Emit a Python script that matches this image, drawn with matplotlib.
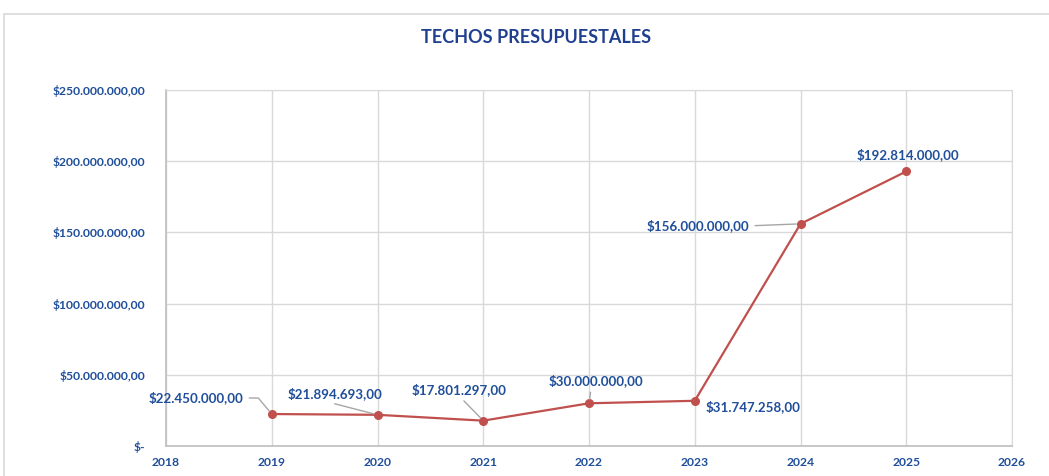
import matplotlib.pyplot as plt
from matplotlib.patches import Rectangle
from matplotlib.ticker import FuncFormatter

# Datos del gráfico
anios = [2019, 2020, 2021, 2022, 2023, 2024, 2025]
techos = [22450000, 21894693, 17801297, 30000000, 31747258, 156000000, 192814000]
etiquetas = ["$22.450.000,00", "$21.894.693,00", "$17.801.297,00", "$30.000.000,00",
             "$31.747.258,00", "$156.000.000,00", "$192.814.000,00"]
titulo = "TECHOS PRESUPUESTALES"

azul = "#1F4E9A"
rojo = "#C0504D"
gris = "#D9D9D9"

plt.rcParams['font.family'] = ['Lato', 'DejaVu Sans']

fig = plt.figure(figsize=(10.49, 4.76), dpi=100)
ax = fig.add_axes([166 / 1049, 1 - 446 / 476, (1012 - 166) / 1049, (446 - 90) / 476])

# marco exterior del gráfico
fig.patches.append(Rectangle((4 / 1049, -0.1), 1.2, 1 - 14 / 476 + 0.1,
                             transform=fig.transFigure, fill=False,
                             edgecolor="#D9D9D9", linewidth=1.2))

ax.plot(anios, techos, color=rojo, linewidth=1.6, marker="o", markersize=5.5, zorder=3)

ax.set_xlim(2018, 2026)
ax.set_ylim(0, 250000000)
ax.set_xticks(range(2018, 2027))
ax.set_yticks(range(0, 250000001, 50000000))


def formato(v, pos):
    if v == 0:
        return "$-"
    return "$" + f"{v:,.2f}".replace(",", "X").replace(".", ",").replace("X", ".")


ax.yaxis.set_major_formatter(FuncFormatter(formato))
ax.tick_params(length=0, labelcolor=azul, labelsize=8.7)
ax.tick_params(axis="x", pad=8)
ax.tick_params(axis="y", pad=15)
for lab in ax.get_xticklabels() + ax.get_yticklabels():
    lab.set_fontweight("bold")

ax.grid(True, color=gris, linewidth=1)
ax.set_axisbelow(True)
for s in ["top", "right"]:
    ax.spines[s].set_color(gris)
for s in ["left", "bottom"]:
    ax.spines[s].set_color("#BFBFBF")
    ax.spines[s].set_linewidth(1.2)

# posiciones de las etiquetas (offset en pixeles, alineación, punto de enlace)
desplaz = [(-28, 16), (-43, 21), (-24, 31), (7, 23), (11, -6), (-51, -2), (2, 17)]
alin = ["right", "center", "center", "center", "left", "right", "center"]
lineas = [(1, 0.5), (0.36, 0), (0.5, 0), (0.45, 0), None, (1, 0.5), None]

for i in range(len(anios)):
    props = None
    if lineas[i] is not None:
        props = dict(arrowstyle="-", color="#A6A6A6", lw=1, relpos=lineas[i],
                     shrinkA=2, shrinkB=3)
        if i == 0:
            props["connectionstyle"] = "angle,angleA=0,angleB=130,rad=0"
    ax.annotate(etiquetas[i], (anios[i], techos[i]), xytext=desplaz[i],
                textcoords="offset pixels", ha=alin[i], va="center",
                color=azul, fontsize=9.6, fontweight="bold", arrowprops=props)

fig.text(536 / 1049, 1 - 38 / 476, titulo, ha="center", va="center",
         color="#1F3F8F", fontsize=13, fontweight="bold")

fig.savefig("out.png", dpi=100)
